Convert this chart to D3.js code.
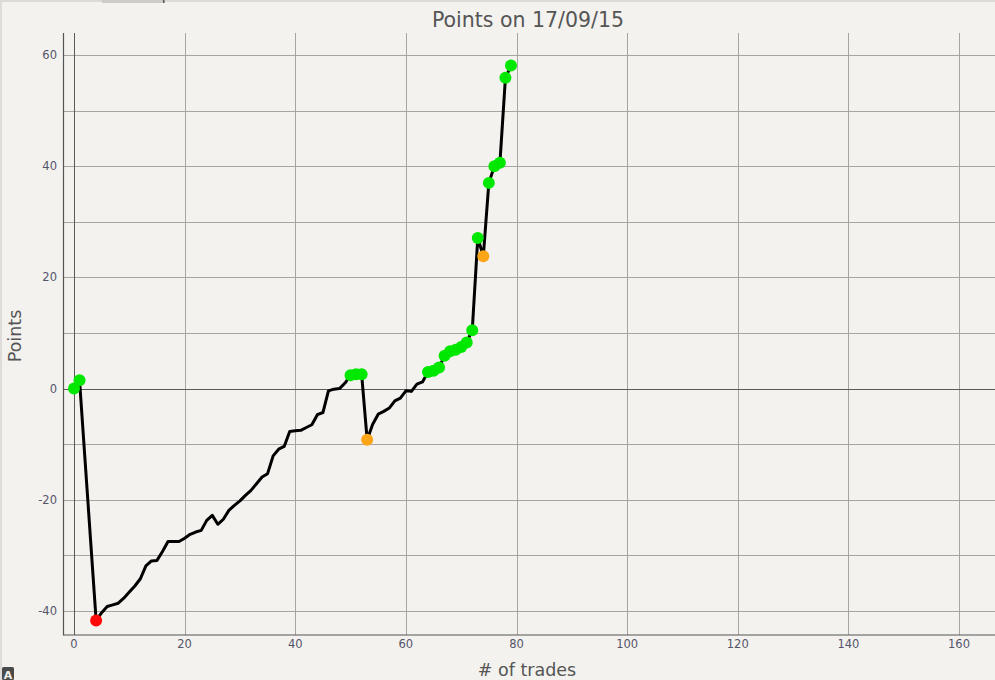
<!DOCTYPE html>
<html>
<head>
<meta charset="utf-8">
<script src="https://cdn.jsdelivr.net/npm/d3@7/dist/d3.min.js"></script>
<style>
  html, body { margin: 0; padding: 0; background: #f3f2ee; overflow: hidden; }
  svg { display: block; }
</style>
</head>
<body>
<svg id="chart" width="995" height="680"></svg>
<script>
// ---- data ----
const title = "Points on 17/09/15";
const xLabel = "# of trades";
const yLabel = "Points";
const xTicks = [0, 20, 40, 60, 80, 100, 120, 140, 160];
const yTicks = [-40, -20, 0, 20, 40, 60];
const yGrid = [-40, -30, -20, -10, 0, 10, 20, 30, 40, 50, 60];
const points = [
  0, 1.5, -12.9, -27.3, -41.7, -40.3, -39.2, -38.9, -38.6, -37.7,
  -36.6, -35.5, -34.2, -31.9, -31.0, -30.9, -29.3, -27.5, -27.5, -27.5,
  -26.9, -26.2, -25.8, -25.5, -23.7, -22.8, -24.4, -23.5, -21.9, -21.0,
  -20.2, -19.2, -18.3, -17.1, -15.9, -15.3, -12.1, -10.9, -10.4, -7.7,
  -7.6, -7.5, -7.0, -6.5, -4.7, -4.3, -0.4, -0.1, 0.0, 1.0,
  2.4, 2.6, 2.6, -9.2, -6.4, -4.6, -4.1, -3.5, -2.2, -1.7,
  -0.4, -0.5, 0.8, 1.2, 3.0, 3.2, 3.8, 5.9, 6.7, 7.0,
  7.5, 8.3, 10.5, 27.1, 23.8, 37.0, 40.0, 40.6, 55.9, 58.1
];
const greenTrades = [0, 1, 50, 51, 52, 64, 65, 66, 67, 68, 69, 70, 71, 72, 73, 75, 76, 77, 78, 79];
const orangeTrades = [53, 74];
const redTrades = [4];

// ---- layout ----
const svg = d3.select("#chart");
const W = 995, H = 680;
const plot = { left: 63.5, right: 1000, top: 33, bottom: 635 };

const x = d3.scaleLinear().domain([0, 160]).range([74, 959]);
const y = d3.scaleLinear().domain([-40, 60]).range([611, 55]);

svg.append("rect").attr("width", W).attr("height", H).attr("fill", "#f3f2ee");

// window chrome bits
svg.append("rect").attr("x", 0).attr("y", 0).attr("width", W).attr("height", 2).attr("fill", "#dcdad6");
svg.append("rect").attr("x", 102).attr("y", 0).attr("width", 61).attr("height", 3).attr("fill", "#cfccc7");
svg.append("rect").attr("x", 163).attr("y", 0).attr("width", 1.5).attr("height", 3).attr("fill", "#555");
svg.append("rect").attr("x", 0).attr("y", 0).attr("width", 2).attr("height", H).attr("fill", "#dedcd8");
const badge = svg.append("g").attr("transform", "translate(2,667)");
badge.append("rect").attr("width", 12).attr("height", 13).attr("rx", 1.5).attr("fill", "#4a4a4a");
badge.append("text").attr("x", 6).attr("y", 11.5).attr("text-anchor", "middle")
  .attr("font-family", "DejaVu Sans").attr("font-size", 11).attr("font-weight", "bold")
  .attr("fill", "#f3f2ee").text("A");

svg.append("defs").append("clipPath").attr("id", "clip")
  .append("rect").attr("x", plot.left).attr("y", plot.top)
  .attr("width", plot.right - plot.left).attr("height", plot.bottom - plot.top);

const g = svg.append("g").attr("clip-path", "url(#clip)");

// horizontal grid
g.selectAll(".hg").data(yGrid.filter(v => v !== 0)).join("line")
  .attr("x1", plot.left).attr("x2", plot.right)
  .attr("y1", d => Math.round(y(d)) + 0.5).attr("y2", d => Math.round(y(d)) + 0.5)
  .attr("stroke", "#a6a5a2").attr("stroke-width", 1);
// vertical grid
g.selectAll(".vg").data(xTicks.filter(v => v !== 0)).join("line")
  .attr("x1", d => Math.round(x(d)) + 0.5).attr("x2", d => Math.round(x(d)) + 0.5)
  .attr("y1", plot.top).attr("y2", plot.bottom)
  .attr("stroke", "#a6a5a2").attr("stroke-width", 1);
// zero lines
g.append("line").attr("x1", plot.left).attr("x2", plot.right)
  .attr("y1", Math.round(y(0)) + 0.5).attr("y2", Math.round(y(0)) + 0.5)
  .attr("stroke", "#5a5a5a").attr("stroke-width", 1);
g.append("line").attr("x1", Math.round(x(0)) + 0.5).attr("x2", Math.round(x(0)) + 0.5)
  .attr("y1", plot.top).attr("y2", plot.bottom)
  .attr("stroke", "#5a5a5a").attr("stroke-width", 1);

// axes frame
svg.append("line").attr("x1", plot.left).attr("x2", plot.left)
  .attr("y1", plot.top).attr("y2", plot.bottom + 0.5)
  .attr("stroke", "#555").attr("stroke-width", 1.2);
svg.append("line").attr("x1", plot.left).attr("x2", W)
  .attr("y1", plot.bottom).attr("y2", plot.bottom)
  .attr("stroke", "#555").attr("stroke-width", 1.2);

// line
const data = points.map((v, i) => ({ t: i, v }));
const line = d3.line().x(d => x(d.t)).y(d => y(d.v));
g.append("path").datum(data).attr("d", line)
  .attr("fill", "none").attr("stroke", "#000").attr("stroke-width", 3)
  .attr("stroke-linejoin", "round").attr("stroke-linecap", "round");

// markers
function drawMarkers(list, color) {
  g.selectAll(null).data(list).join("circle")
    .attr("cx", t => x(t)).attr("cy", t => y(points[t]))
    .attr("r", 6).attr("fill", color);
}
drawMarkers(greenTrades, "#00e800");
drawMarkers(orangeTrades, "#fca517");
drawMarkers(redTrades, "#ff0a0a");

// tick labels
const tickColor = "#55556a";
svg.selectAll(".yt").data(yTicks).join("text")
  .attr("x", 57).attr("y", d => y(d) + 4)
  .attr("text-anchor", "end")
  .attr("font-family", "DejaVu Sans").attr("font-size", 11.5)
  .attr("fill", tickColor).text(d => d);
svg.selectAll(".xt").data(xTicks).join("text")
  .attr("x", d => x(d)).attr("y", 648)
  .attr("text-anchor", "middle")
  .attr("font-family", "DejaVu Sans").attr("font-size", 11.5)
  .attr("fill", tickColor).text(d => d);

// titles
svg.append("text").attr("x", 528).attr("y", 27).attr("text-anchor", "middle")
  .attr("font-family", "DejaVu Sans").attr("font-size", 20.5)
  .attr("fill", "#555").text(title);
svg.append("text").attr("x", 527).attr("y", 676).attr("text-anchor", "middle")
  .attr("font-family", "DejaVu Sans").attr("font-size", 17.5)
  .attr("fill", "#555").text(xLabel);
svg.append("text").attr("transform", "translate(21,336) rotate(-90)")
  .attr("text-anchor", "middle")
  .attr("font-family", "DejaVu Sans").attr("font-size", 17.5)
  .attr("fill", "#555").text(yLabel);
</script>
</body>
</html>
